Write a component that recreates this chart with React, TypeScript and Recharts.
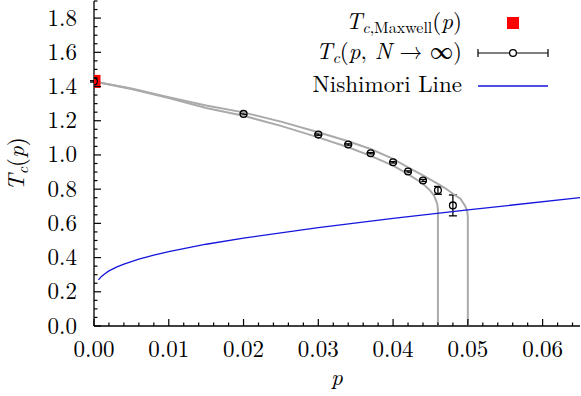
import React from 'react';
import { ComposedChart, Scatter, XAxis, YAxis, ErrorBar } from 'recharts';

// ---------- data ----------
const maxwellP = [0];
const maxwellT = [1.43];

const tcP = [0, 0.02, 0.03, 0.034, 0.037, 0.04, 0.042, 0.044, 0.046, 0.048];
const tcT = [1.43, 1.24, 1.119, 1.061, 1.01, 0.957, 0.903, 0.851, 0.793, 0.705];
const tcErr = [0.004, 0.004, 0.004, 0.004, 0.004, 0.004, 0.004, 0.006, 0.023, 0.061];

const outerP = [0, 0.005, 0.01, 0.015, 0.02, 0.025, 0.03, 0.034, 0.037, 0.04, 0.042, 0.044, 0.046, 0.047, 0.048, 0.049, 0.0496, 0.0499, 0.05, 0.05];
const outerT = [1.43, 1.388, 1.338, 1.289, 1.249, 1.195, 1.133, 1.08, 1.035, 0.977, 0.928, 0.88, 0.831, 0.805, 0.773, 0.744, 0.705, 0.675, 0.64, 0];

const innerP = [0, 0.005, 0.01, 0.015, 0.02, 0.025, 0.03, 0.034, 0.037, 0.04, 0.042, 0.044, 0.045, 0.0455, 0.0459, 0.046, 0.046];
const innerT = [1.43, 1.385, 1.333, 1.275, 1.229, 1.17, 1.103, 1.045, 0.995, 0.938, 0.888, 0.832, 0.79, 0.76, 0.715, 0.68, 0];

const nishP = [0.0006, 0.0008, 0.001, 0.0015, 0.002, 0.003, 0.004, 0.006, 0.008, 0.01, 0.015, 0.02, 0.03, 0.04, 0.05, 0.065];
const nishT = [0.27, 0.28, 0.29, 0.307, 0.322, 0.344, 0.362, 0.391, 0.415, 0.435, 0.478, 0.514, 0.575, 0.629, 0.679, 0.75];

const xMajorTicks = [0, 0.01, 0.02, 0.03, 0.04, 0.05, 0.06];
const xTickLabels = ['0.00', '0.01', '0.02', '0.03', '0.04', '0.05', '0.06'];
const yMajorTicks = [0, 0.2, 0.4, 0.6, 0.8, 1.0, 1.2, 1.4, 1.6, 1.8];
const yTickLabels = ['0.0', '0.2', '0.4', '0.6', '0.8', '1.0', '1.2', '1.4', '1.6', '1.8'];

// ---------- helpers ----------
const zip = (ps: number[], ts: number[]) => ps.map((p, i) => ({ p, T: ts[i] }));
const maxwellData = zip(maxwellP, maxwellT);
const tcData = tcP.map((p, i) => ({ p, T: tcT[i], err: tcErr[i] }));
const outerData = zip(outerP, outerT);
const innerData = zip(innerP, innerT);
const nishData = zip(nishP, nishT);

const xAllTicks: number[] = [];
for (let i = 0; i <= 32; i++) xAllTicks.push(Math.round(i * 2) / 1000);
const yAllTicks: number[] = [];
for (let i = 0; i <= 38; i++) yAllTicks.push(Math.round(i * 5) / 100);

const majorIndex = (v: number, arr: number[]) => arr.findIndex((m) => Math.abs(m - v) < 1e-9);

const FONT = '"Latin Modern Roman", "Liberation Serif", serif';
const FS = 23;
const txt: React.CSSProperties = { fontFamily: FONT, fontSize: FS };
const ital: React.CSSProperties = { fontStyle: 'italic' };
const sub: React.CSSProperties = { fontSize: 16 };
const subItal: React.CSSProperties = { fontSize: 16, fontStyle: 'italic' };

function XTick(props: any) {
  const { x, y, payload, dir, showLabel } = props;
  const idx = majorIndex(payload.value, xMajorTicks);
  const len = idx >= 0 ? 7 : 3.5;
  return (
    <g>
      <line x1={x} x2={x} y1={y} y2={y + dir * len} stroke="#000" strokeWidth={1.2} />
      {showLabel && idx >= 0 ? (
        <text x={x} y={y + 31} textAnchor="middle" style={txt} fill="#000">
          {xTickLabels[idx]}
        </text>
      ) : null}
    </g>
  );
}

function YTick(props: any) {
  const { x, y, payload, dir, showLabel } = props;
  const idx = majorIndex(payload.value, yMajorTicks);
  const len = idx >= 0 ? 7 : 3.5;
  return (
    <g>
      <line x1={x} x2={x + dir * len} y1={y} y2={y} stroke="#000" strokeWidth={1.2} />
      {showLabel && idx >= 0 ? (
        <text x={x - 17} y={y + 7.5} textAnchor="end" style={txt} fill="#000">
          {yTickLabels[idx]}
        </text>
      ) : null}
    </g>
  );
}

const Empty = () => <g />;

const RedSquare = (props: any) => (
  <rect x={props.cx - 6.5} y={props.cy - 6.5} width={13} height={13} fill="#ff0000" />
);

const OpenCircle = (props: any) => (
  <circle cx={props.cx} cy={props.cy} r={3.4} fill="none" stroke="#000" strokeWidth={1.3} />
);

const XTitle = () => (
  <text x={337} y={385} textAnchor="middle" style={{ ...txt, ...ital }} fill="#000">
    p
  </text>
);

const YTitle = () => (
  <text x={24} y={164} transform="rotate(-90 24 164)" textAnchor="middle" style={txt} fill="#000">
    <tspan style={ital}>T</tspan>
    <tspan style={subItal} dy={4}>c</tspan>
    <tspan dy={-4}>(</tspan>
    <tspan style={ital}>p</tspan>
    <tspan>)</tspan>
  </text>
);

function LegendBox() {
  const tx = 462;
  return (
    <svg width={581} height={396} style={{ position: 'absolute', left: 0, top: 0, pointerEvents: 'none' }}>
      <text x={tx} y={29} textAnchor="end" style={txt} fill="#000">
        <tspan style={ital}>T</tspan>
        <tspan style={subItal} dy={4}>c</tspan>
        <tspan style={sub}>,Maxwell</tspan>
        <tspan dy={-4}>(</tspan>
        <tspan style={ital}>p</tspan>
        <tspan>)</tspan>
      </text>
      <rect x={507} y={17} width={12} height={12} fill="#ff0000" />

      <text x={tx} y={59} textAnchor="end" style={txt} fill="#000">
        <tspan style={ital}>T</tspan>
        <tspan style={subItal} dy={4}>c</tspan>
        <tspan dy={-4}>(</tspan>
        <tspan style={ital}>p</tspan>
        <tspan>, </tspan>
        <tspan style={ital}>N</tspan>
        <tspan> → ∞)</tspan>
      </text>
      <line x1={478} x2={548} y1={53} y2={53} stroke="#000" strokeWidth={1.2} />
      <line x1={478} x2={478} y1={49} y2={57} stroke="#000" strokeWidth={1.2} />
      <line x1={548} x2={548} y1={49} y2={57} stroke="#000" strokeWidth={1.2} />
      <circle cx={513} cy={53} r={3.4} fill="#fff" stroke="#000" strokeWidth={1.3} />

      <text x={tx} y={92} textAnchor="end" style={txt} fill="#000">
        Nishimori Line
      </text>
      <line x1={478} x2={548} y1={86} y2={86} stroke="#1515dd" strokeWidth={1.3} />
    </svg>
  );
}

export default function App() {
  return (
    <div style={{ position: 'absolute', left: 0, top: 0, width: 581, height: 396, background: '#fff' }}>
      <ComposedChart width={581} height={396} margin={{ top: 1, right: 1, bottom: 0, left: 0 }}>
        <XAxis
          xAxisId={0}
          dataKey="p"
          type="number"
          domain={[0, 0.065]}
          allowDataOverflow
          ticks={xAllTicks}
          interval={0}
          height={70}
          tickSize={0}
          tickMargin={0}
          tickLine={false}
          axisLine={{ stroke: '#000', strokeWidth: 1.3 }}
          tick={<XTick dir={-1} showLabel />}
          label={XTitle}
        />
        <XAxis
          xAxisId="top"
          orientation="top"
          type="number"
          domain={[0, 0.065]}
          allowDataOverflow
          ticks={xAllTicks}
          interval={0}
          height={0}
          tickSize={0}
          tickMargin={0}
          tickLine={false}
          axisLine={{ stroke: '#000', strokeWidth: 1.3 }}
          tick={<XTick dir={1} showLabel={false} />}
        />
        <YAxis
          yAxisId={0}
          dataKey="T"
          type="number"
          domain={[0, 1.9]}
          allowDataOverflow
          ticks={yAllTicks}
          interval={0}
          width={94}
          tickSize={0}
          tickMargin={0}
          tickLine={false}
          axisLine={{ stroke: '#000', strokeWidth: 1.3 }}
          tick={<YTick dir={1} showLabel />}
          label={YTitle}
        />
        <YAxis
          yAxisId="right"
          orientation="right"
          type="number"
          domain={[0, 1.9]}
          allowDataOverflow
          ticks={yAllTicks}
          interval={0}
          width={0}
          tickSize={0}
          tickMargin={0}
          tickLine={false}
          axisLine={{ stroke: '#000', strokeWidth: 1.3 }}
          tick={<YTick dir={-1} showLabel={false} />}
        />
        <Scatter
          data={outerData}
          dataKey="T"
          shape={Empty}
          line={{ stroke: '#aaaaaa', strokeWidth: 2 }}
          isAnimationActive={false}
        />
        <Scatter
          data={innerData}
          dataKey="T"
          shape={Empty}
          line={{ stroke: '#aaaaaa', strokeWidth: 2 }}
          isAnimationActive={false}
        />
        <Scatter
          data={nishData}
          dataKey="T"
          shape={Empty}
          line={{ stroke: '#1515dd', strokeWidth: 1.3 }}
          isAnimationActive={false}
        />
        <Scatter data={maxwellData} dataKey="T" shape={RedSquare} isAnimationActive={false} />
        <Scatter data={tcData} dataKey="T" shape={OpenCircle} isAnimationActive={false}>
          <ErrorBar dataKey="err" direction="y" width={4} stroke="#000000" strokeWidth={1.3} />
        </Scatter>
      </ComposedChart>
      <LegendBox />
    </div>
  );
}
